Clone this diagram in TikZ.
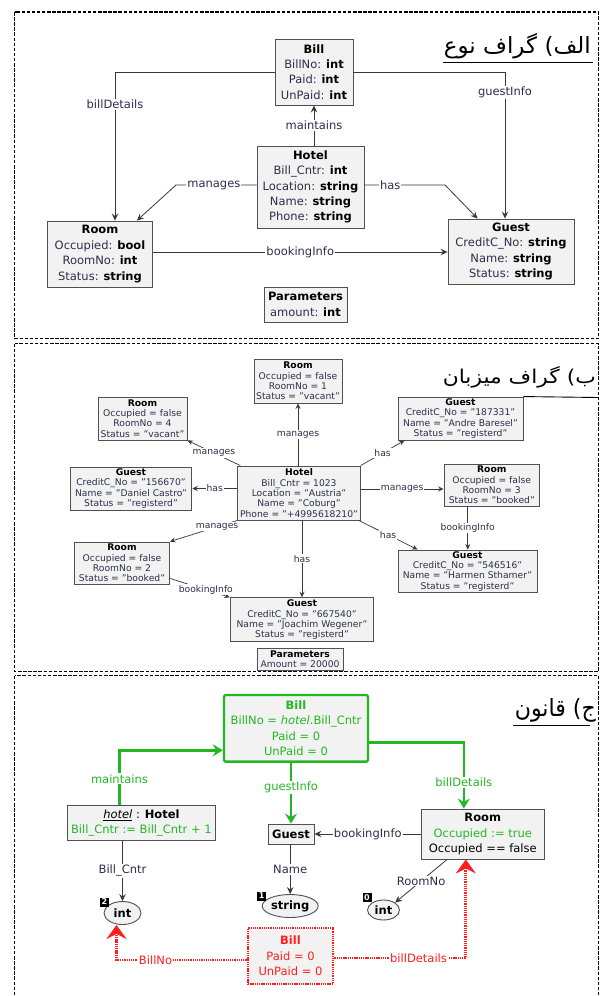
\documentclass[tikz,border=0pt]{standalone}
\usepackage{fontspec}
\usepackage{graphicx}
\setmainfont{DejaVu Sans}
\newfontfamily\arabicfont[Script=Arabic]{DejaVu Sans}
\TeXXeTstate=1
\usetikzlibrary{arrows.meta,calc,shapes.geometric}
\definecolor{boxf}{HTML}{F2F2F2}
\definecolor{boxd}{HTML}{505050}
\definecolor{txt}{HTML}{2E2E4A}
\definecolor{edc}{HTML}{383838}
\definecolor{grn}{HTML}{22B822}
\definecolor{rd}{HTML}{FF1E1E}
\newcommand\tyb[1]{\textcolor{black}{\textbf{#1}}}
\begin{document}
\begin{tikzpicture}[x=1pt,y=-1pt,
  every node/.style={inner sep=0pt},
  cls/.style={draw=boxd, fill=boxf, line width=0.9pt, align=center, text=txt},
  fA/.style={font=\fontsize{11.5}{15.4}\selectfont},
  fB/.style={font=\fontsize{9.2}{10.3}\selectfont},
  sz/.style 2 args={minimum width=#1pt, minimum height=#2pt},
  lab/.style={fill=white, inner sep=1pt, text=txt},
  blkedge/.style={draw=edc, line width=0.8pt, -{Stealth[length=7pt,width=6.5pt,inset=2.5pt]}},
  edB/.style={draw=edc, line width=0.7pt, -{Stealth[length=5.5pt,width=5pt,inset=2pt]}},
  gcls/.style={draw=grn, fill=boxf, line width=2.4pt, rounded corners=1.5pt, align=center},
  ged/.style={draw=grn, line width=2.4pt, -{Stealth[length=10pt,width=12pt,inset=3.5pt]}},
  rcls/.style={draw=rd, fill=boxf, line width=2.8pt, dash pattern=on 1.3pt off 0.9pt, align=center},
  nacedge/.style={draw=rd, line width=2.8pt, dash pattern=on 1.3pt off 0.9pt, -{Stealth[length=14pt,width=20pt,inset=5pt]}},
  panelbox/.style={draw=black, line width=1.1pt, dash pattern=on 3.5pt off 1.6pt},
  badge/.style={fill=black, text=white, font=\fontsize{8}{8}\selectfont\bfseries, minimum width=9pt, minimum height=9pt},
  ell/.style={ellipse, draw=boxd, fill=boxf, line width=0.9pt, font=\fontsize{11.5}{12}\selectfont\bfseries, text=black},
]
\useasboundingbox (0,0) rectangle (600,996);
\fill[white] (0,0) rectangle (600,996);

% ---------- Panel 1: type graph ----------
\node[cls,fA,sz={78}{66}] (bill1) at (314,72) {\tyb{Bill}\\BillNo: \tyb{int}\\Paid: \tyb{int}\\UnPaid: \tyb{int}};
\node[cls,fA,sz={107}{82}] (hotel1) at (310.5,187) {\tyb{Hotel}\\Bill\_Cntr: \tyb{int}\\Location: \tyb{string}\\Name: \tyb{string}\\Phone: \tyb{string}};
\node[cls,fA,sz={105}{66}] (room1) at (100,254) {\tyb{Room}\\Occupied: \tyb{bool}\\RoomNo: \tyb{int}\\Status: \tyb{string}};
\node[cls,fA,sz={126}{65}] (guest1) at (511,251.5) {\tyb{Guest}\\CreditC\_No: \tyb{string}\\Name: \tyb{string}\\Status: \tyb{string}};
\node[cls,fA,sz={83}{35}] (param1) at (305.5,304.5) {\tyb{Parameters}\\amount: \tyb{int}};

\draw[blkedge] (bill1.south |- hotel1.north) -- node[lab,fA]{maintains} (bill1.south);
\draw[blkedge] (bill1.west) -| node[lab,fA,pos=0.61]{billDetails} ($(room1.north)+(15,0)$);
\draw[blkedge] (bill1.east) -| node[lab,fA,pos=0.57]{guestInfo} ($(guest1.north)+(-6,0)$);
\draw[blkedge] ($(hotel1.west)+(0,-2)$) -- node[lab,fA,pos=0.53]{manages} (176,185) -- ($(room1.north east)+(-16,0)$);
\draw[blkedge] ($(hotel1.east)+(0,-2)$) -- node[lab,fA,pos=0.32]{has} (445,185) -- ($(guest1.north west)+(30,0)$);
\coordinate (r1e) at ($(room1.east)+(0,-2)$);
\draw[blkedge] (r1e) -- node[lab,fA]{bookingInfo} (r1e -| guest1.west);

% ---------- Panel 2: host graph ----------
\node[cls,fB,sz={88}{44}] (r1b) at (298,381) {\tyb{Room}\\Occupied = false\\RoomNo = 1\\Status = "vacant"};
\node[cls,fB,sz={89}{43}] (r4b) at (142.5,418.5) {\tyb{Room}\\Occupied = false\\RoomNo = 4\\Status = "vacant"};
\node[cls,fB,sz={125}{43}] (gtr) at (460.5,418.5) {\tyb{Guest}\\CreditC\_No = "187331"\\Name = "Andre Baresel"\\Status = "registerd"};
\node[cls,fB,sz={122.5}{54}] (hb) at (299,493) {\tyb{Hotel}\\Bill\_Cntr = 1023\\Location = "Austria"\\Name = "Coburg"\\Phone = "+4995618210"};
\node[cls,fB,sz={121.6}{43}] (gl) at (131,488.5) {\tyb{Guest}\\CreditC\_No = "156670"\\Name = "Daniel Castro"\\Status = "registerd"};
\node[cls,fB,sz={95.5}{42}] (r3b) at (491.75,485) {\tyb{Room}\\Occupied = false\\RoomNo = 3\\Status = "booked"};
\node[cls,fB,sz={95}{42}] (r2b) at (122,563) {\tyb{Room}\\Occupied = false\\RoomNo = 2\\Status = "booked"};
\node[cls,fB,sz={139}{42.7}] (gbr) at (467.5,571.3) {\tyb{Guest}\\CreditC\_No = "546516"\\Name = "Harmen Sthamer"\\Status = "registerd"};
\node[cls,fB,sz={143.6}{44}] (gb) at (302,619.7) {\tyb{Guest}\\CreditC\_No = "667540"\\Name = "Joachim Wegener"\\Status = "registerd"};
\node[cls,fB,sz={86}{22}] (pb) at (300,659) {\tyb{Parameters}\\Amount = 20000};

\draw[edB] (hb.north -| r1b.south) -- node[lab,fB]{manages} (r1b.south);
\draw[edB] ($(hb.north west)+(3,0)$) -- node[lab,fB]{manages} (r4b.south east);
\draw[edB] (hb.north east) -- node[lab,fB]{has} ($(gtr.south west)+(7,0)$);
\draw[edB] (gl.east -| hb.west) -- node[lab,fB]{has} (gl.east);
\coordinate (hbR) at ($(hb.east)+(0,-4)$);
\draw[edB] (hbR) -- node[lab,fB]{manages} (hbR -| r3b.west);
\coordinate (r3s) at ($(r3b.south)+(-24,0)$);
\draw[edB] (r3s) -- node[lab,fB]{bookingInfo} (r3s |- gbr.north);
\draw[edB] ($(hb.south east)+(-2,0)$) -- node[lab,fB]{has} ($(gbr.north west)+(20,0)$);
\draw[edB] (hb.south west) -- node[lab,fB,pos=0.3]{manages} (r2b.north east);
\draw[edB] (hb.south -| gb.north) -- node[lab,fB]{has} (gb.north);
\draw[edB] ($(r2b.south east)+(0,-6)$) -- node[lab,fB,pos=0.6]{bookingInfo} (gb.north west);

% ---------- Panel 3: rule ----------
\node[gcls,fA,sz={144}{66.7},text=grn] (billG) at (296,728.3) {\textbf{Bill}\\BillNo = \textit{hotel}.Bill\_Cntr\\Paid = 0\\UnPaid = 0};
\node[cls,fA,sz={148.7}{34.3}] (hotelG) at (141.4,822.9) {\textcolor{black}{\underline{\textit{hotel}} : \textbf{Hotel}}\\\textcolor{grn}{Bill\_Cntr := Bill\_Cntr + 1}};
\node[cls,fA,sz={46}{20}] (guestG) at (291,834) {\tyb{Guest}};
\node[cls,fA,sz={122.5}{50}] (roomG) at (482.8,834) {\tyb{Room}\\\textcolor{grn}{Occupied := true}\\\textcolor{black}{Occupied == false}};
\node[ell,sz={37}{23}] (int2) at (122.5,913) {int};
\node[ell,sz={56}{23}] (str1) at (290.2,906) {string};
\node[ell,sz={32}{20}] (int0) at (383.5,910) {int};
\node[badge] (b2) at (104.5,902) {2};
\node[badge] (b1) at (261.7,896) {1};
\node[badge] (b0) at (367,897.3) {0};
\node[rcls,fA,sz={85}{56},text=rd] (nacB) at (290.5,956) {\textbf{Bill}\\Paid = 0\\UnPaid = 0};

\coordinate (hgN) at ($(hotelG.north)+(-22,0)$);
\coordinate (bgW) at ($(billG.west)+(0,22)$);
\draw[ged] (hgN) |- node[lab,fA,text=grn,pos=0.24]{maintains} (bgW);
\draw[ged] (guestG.north |- billG.south) -- node[lab,fA,text=grn,pos=0.4]{guestInfo} (guestG.north);
\draw[ged] ($(billG.east)+(0,14)$) -| node[lab,fA,text=grn,pos=0.8]{billDetails} ($(roomG.north)+(-19,0)$);
\draw[blkedge] (roomG.west) -- node[lab,fA]{bookingInfo} (guestG.east);
\draw[blkedge] (int2.north |- hotelG.south) -- node[lab,fA]{Bill\_Cntr} (int2.north);
\draw[blkedge] (str1.north |- guestG.south) -- node[lab,fA]{Name} (str1.north);
\draw[blkedge] ($(roomG.south west)+(26,0)$) -- node[lab,fA]{RoomNo} (int0.north east);
\draw[nacedge] ($(nacB.west)+(0,4)$) -| node[lab,fA,text=rd,pos=0.35]{BillNo} ($(int2.south)+(-6,0)$);
\draw[nacedge] ($(nacB.east)+(0,2)$) -| node[lab,fA,text=rd,pos=0.32]{billDetails} ($(roomG.south)+(-17,0)$);

% ---------- Persian titles ----------
\node[anchor=base east] (t1) at (591,53) {\resizebox{147pt}{20pt}{\arabicfont\beginR الف) گراف نوع\endR}};
\node[anchor=base east] (t2) at (596,383) {\resizebox{153pt}{17pt}{\arabicfont\beginR ب) گراف میزبان\endR}};
\node[anchor=base east] (t3) at (596,716) {\resizebox{81pt}{18pt}{\arabicfont\beginR ج) قانون\endR}};
\draw[line width=0.9pt] (443,62) -- (593,62);
\draw[line width=0.9pt] (gtr.north east) -- (598,397.5);
\draw[line width=0.9pt] (513,725.7) -- (590,725.7);

% ---------- frames ----------
\draw[panelbox] (14.5,12) rectangle (598.5,338.5);
\draw[panelbox] (14.5,343.5) rectangle (598.5,671.5);
\draw[panelbox] (14.5,675.5) rectangle (598.5,1005);
\end{tikzpicture}
\end{document}
